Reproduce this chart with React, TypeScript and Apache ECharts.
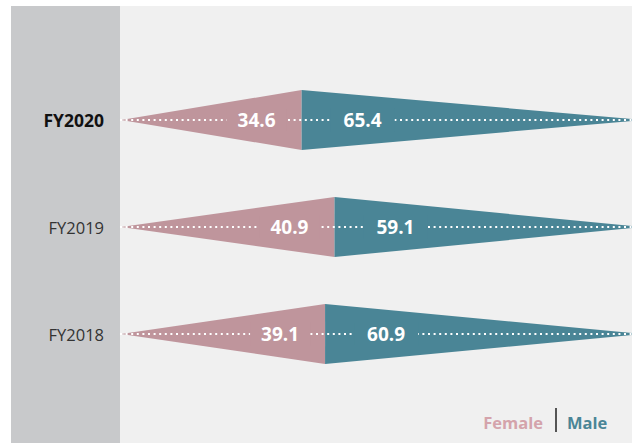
import React, { useEffect, useRef } from "react";
import * as echarts from "echarts";

const categories = ["FY2018", "FY2019", "FY2020"];
const female = [39.1, 40.9, 34.6];
const male = [60.9, 59.1, 65.4];
const legendNames = ["Female", "Male"];

const PINK = "#bf959c";
const TEAL = "#4a8596";
const FONT = "'Open Sans', 'Noto Sans', sans-serif";

export default function App() {
  const ref = useRef<HTMLDivElement>(null);
  useEffect(() => {
    if (!ref.current) return;
    const chart = echarts.init(ref.current, null, { renderer: "svg" });
    const data = categories.map((c, i) => [female[i], i, male[i]]);
    chart.setOption({
      animation: false,
      backgroundColor: "#ffffff",
      grid: { left: 121, right: 0, top: 66.5, bottom: 55.5 },
      xAxis: { type: "value", min: 0, max: 97.9, show: false },
      yAxis: {
        type: "category",
        data: categories,
        axisLine: { show: false },
        axisTick: { show: false },
        splitLine: { show: false },
        axisLabel: {
          margin: 17,
          fontFamily: FONT,
          fontSize: 16.5,
          color: "#333333",
          formatter: (v: string) => (v === "FY2020" ? `{b|${v}}` : v),
          rich: {
            b: { fontFamily: FONT, fontSize: 17.5, fontWeight: "bold", color: "#111111" },
          },
        },
      },
      graphic: [
        { type: "rect", z: -10, shape: { x: 11, y: 6, width: 109, height: 437 }, style: { fill: "#c8c9cb" } },
        { type: "rect", z: -10, shape: { x: 120, y: 6, width: 512, height: 437 }, style: { fill: "#f0f0f0" } },
        {
          type: "text",
          style: { text: legendNames[0], x: 543, y: 422, align: "right", verticalAlign: "middle", fill: "#d4a3ab", font: `bold 16.5px ${FONT}` },
        },
        { type: "line", shape: { x1: 556, y1: 408, x2: 556, y2: 432 }, style: { stroke: "#222", lineWidth: 1.5 } },
        {
          type: "text",
          style: { text: legendNames[1], x: 567, y: 422, align: "left", verticalAlign: "middle", fill: TEAL, font: `bold 16.5px ${FONT}` },
        },
      ],
      series: [
        {
          type: "custom",
          clip: false,
          data,
          renderItem: (params: any, api: any) => {
            const f = api.value(0);
            const idx = api.value(1);
            const m = api.value(2);
            const p0 = api.coord([0, idx]);
            const ps = api.coord([f, idx]);
            const p1 = api.coord([f + m, idx]);
            const band = api.size([0, 1])[1];
            const h = band * 0.28;
            const yc = p0[1];
            const font = `bold 19px ${FONT}`;
            return {
              type: "group",
              children: [
                { type: "polygon", shape: { points: [[p0[0], yc], [ps[0], yc - h], [ps[0], yc + h]] }, style: { fill: PINK } },
                { type: "polygon", shape: { points: [[ps[0], yc - h], [p1[0], yc], [ps[0], yc + h]] }, style: { fill: TEAL } },
                {
                  type: "line",
                  shape: { x1: p0[0] - 1, y1: yc, x2: p1[0], y2: yc },
                  style: { stroke: "#ffffff", lineWidth: 2, lineDash: [2, 3.6], lineCap: "butt" },
                },
                {
                  type: "text",
                  style: {
                    text: f.toFixed(1), x: ps[0] - 45, y: yc, align: "center", verticalAlign: "middle",
                    fill: "#ffffff", font, backgroundColor: PINK, padding: [2, 11],
                  },
                },
                {
                  type: "text",
                  style: {
                    text: m.toFixed(1), x: ps[0] + 61, y: yc, align: "center", verticalAlign: "middle",
                    fill: "#ffffff", font, backgroundColor: TEAL, padding: [2, 13],
                  },
                },
              ],
            };
          },
        },
      ],
    });
    return () => chart.dispose();
  }, []);
  return <div ref={ref} style={{ position: "absolute", left: 0, top: 0, width: 632, height: 443 }} />;
}
